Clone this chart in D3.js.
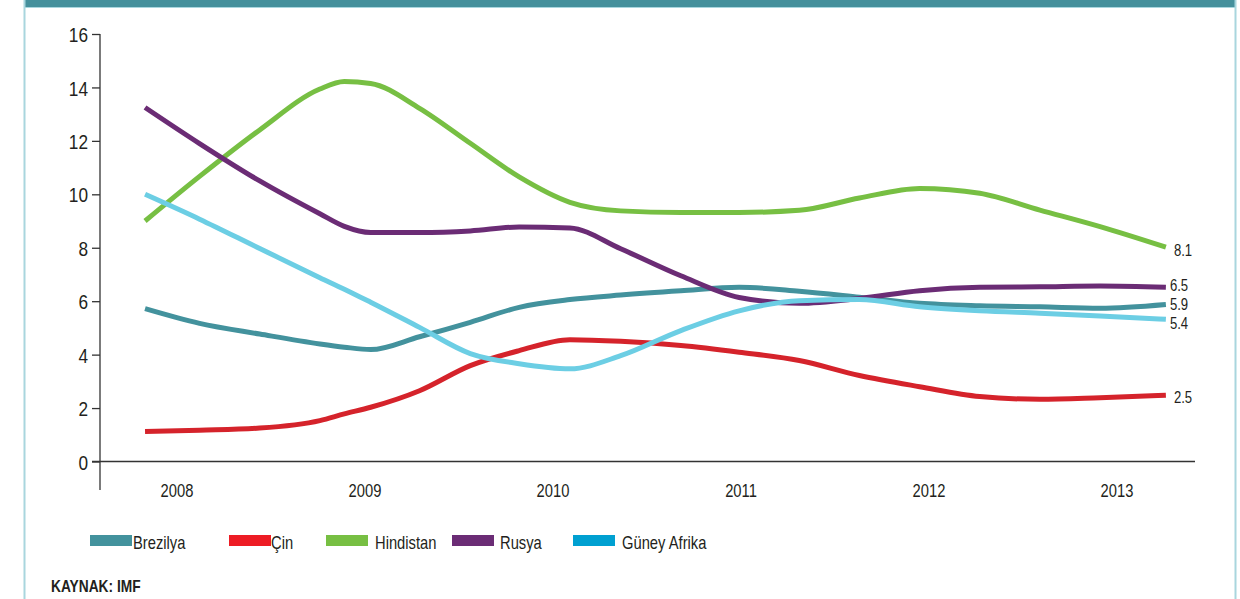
<!DOCTYPE html>
<html>
<head>
<meta charset="utf-8">
<script src="https://cdn.jsdelivr.net/npm/d3@7"></script>
<style>
  body { margin: 0; background: #fff; }
  svg { display: block; font-family: "Liberation Sans", Arial, sans-serif; }
</style>
</head>
<body>
<svg id="chart" width="1240" height="599"></svg>
<script>
// periods as fractional years
const periods = [2007.83, 2008.12, 2008.44, 2008.76, 2008.89, 2009.03, 2009.29, 2009.56, 2009.82,
  2010.09, 2010.36, 2010.68, 2010.99, 2011.31, 2011.63, 2011.95, 2012.27, 2012.59, 2012.91, 2013.26]
const years = [2008, 2009, 2010, 2011, 2012, 2013]
const yTicks = [0, 2, 4, 6, 8, 10, 12, 14, 16]

const brezilya = [5.72, 5.17, 4.77, 4.40, 4.28, 4.19, 4.67, 5.21, 5.77, 6.06, 6.23, 6.39, 6.52, 6.37, 6.15, 5.92, 5.83, 5.79, 5.74, 5.88]
const cin = [1.12, 1.17, 1.25, 1.53, 1.78, 2.03, 2.65, 3.59, 4.15, 4.56, 4.50, 4.34, 4.09, 3.78, 3.22, 2.80, 2.43, 2.33, 2.39, 2.48]
const hindistan = [9.0, 10.67, 12.41, 13.94, 14.22, 14.15, 13.22, 11.91, 10.65, 9.70, 9.38, 9.32, 9.32, 9.40, 9.86, 10.22, 10.04, 9.41, 8.79, 8.02]
const rusya = [13.25, 11.9, 10.5, 9.27, 8.80, 8.57, 8.57, 8.63, 8.78, 8.74, 7.96, 6.95, 6.14, 5.92, 6.10, 6.39, 6.52, 6.54, 6.57, 6.52]
const guneyAfrika = [10.0, 9.07, 7.97, 6.88, 6.45, 5.96, 5.02, 4.04, 3.66, 3.47, 3.96, 4.90, 5.64, 6.02, 6.06, 5.79, 5.64, 5.55, 5.45, 5.32]

const names = ['Brezilya', 'Çin', 'Hindistan', 'Rusya', 'Güney Afrika']
const endLabels = ['5.9', '2.5', '8.1', '6.5', '5.4']

const lineColors = ['#43929d', '#d5232b', '#77bf43', '#6b2c75', '#6ccee4']
const legendColors = ['#43929d', '#ed1c24', '#77bf43', '#6b2c75', '#00a0d1']
const labelShift = [[4, 0], [8, 2], [8, 3], [4, -2], [4, 4]]

const series = [brezilya, cin, hindistan, rusya, guneyAfrika].map((vals, i) => ({
  name: names[i],
  label: endLabels[i],
  values: vals.map((v, j) => ({ t: periods[j], v }))
}))

const NARROW = 0.82
// condensed look: squeeze text horizontally around its anchor
const squeeze = (sel, tx, ty, k = NARROW) =>
  sel.attr('x', 0).attr('y', 0).attr('transform', `translate(${tx},${ty}) scale(${k},1)`)

const svg = d3.select('#chart')

// frame
svg.append('rect').attr('x', 24).attr('y', 0).attr('width', 1212).attr('height', 7).attr('fill', '#45909c')
svg.append('line').attr('x1', 24).attr('x2', 1236).attr('y1', 7.5).attr('y2', 7.5).attr('stroke', '#a9d6de').attr('stroke-width', 1)
svg.append('line').attr('x1', 24.5).attr('x2', 24.5).attr('y1', 0).attr('y2', 599).attr('stroke', '#a9d6de').attr('stroke-width', 2)
svg.append('line').attr('x1', 1235.5).attr('x2', 1235.5).attr('y1', 0).attr('y2', 599).attr('stroke', '#a9d6de').attr('stroke-width', 2)

const x = d3.scaleLinear().domain([2008, 2013]).range([177, 1117])
const y = d3.scaleLinear().domain([0, 16]).range([461.5, 34])

// y axis
const yAxis = svg.append('g').attr('transform', 'translate(100,0)')
  .call(d3.axisLeft(y).tickValues(yTicks).tickSize(8).tickPadding(4).tickSizeOuter(0))
yAxis.select('.domain').remove()
yAxis.append('line').attr('x1', 0).attr('x2', 0).attr('y1', y(16)).attr('y2', 490)
  .attr('stroke', '#333').attr('stroke-width', 1.3)
yAxis.selectAll('.tick line').attr('stroke', '#333').attr('stroke-width', 1.3)
yAxis.selectAll('.tick text')
  .attr('fill', '#231f20').attr('font-size', 21).attr('font-family', null)
  .attr('dy', '0.36em')
  .call(sel => squeeze(sel, -12, 0))

// x axis
svg.append('line').attr('x1', 92).attr('x2', 1195).attr('y1', y(0)).attr('y2', y(0))
  .attr('stroke', '#333').attr('stroke-width', 1.3)
svg.selectAll('.year').data(years).enter().append('text')
  .attr('class', 'year')
  .attr('text-anchor', 'middle')
  .attr('font-size', 18)
  .attr('fill', '#231f20')
  .text(d => d)
  .each(function (d) { squeeze(d3.select(this), x(d), 497) })

const line = d3.line()
  .x(d => x(d.t))
  .y(d => y(d.v))
  .curve(d3.curveMonotoneX)

series.forEach((s, i) => {
  svg.append('path')
    .datum(s.values)
    .attr('d', line)
    .attr('fill', 'none')
    .attr('stroke', lineColors[i])
    .attr('stroke-width', 5)
    .attr('stroke-linejoin', 'round')

  const last = s.values[s.values.length - 1]
  svg.append('text')
    .attr('dy', '0.36em')
    .attr('font-size', 16)
    .attr('fill', '#231f20')
    .text(s.label)
    .call(sel => squeeze(sel, x(last.t) + labelShift[i][0], y(last.v) + labelShift[i][1]))
})

// legend
const legendX = [90, 229, 326, 452, 573]
const legendGap = [43, 42, 49, 48, 49]
const legend = svg.selectAll('.legend').data(names).enter().append('g')
  .attr('class', 'legend')
  .attr('transform', (d, i) => `translate(${legendX[i]},535)`)
legend.append('rect').attr('width', 42).attr('height', 11).attr('fill', (d, i) => legendColors[i])
legend.append('text')
  .attr('font-size', 18)
  .attr('fill', '#231f20')
  .text(d => d)
  .each(function (d, i) { squeeze(d3.select(this), legendGap[i], 14) })

svg.append('text')
  .attr('font-size', 16)
  .attr('font-weight', 'bold')
  .attr('fill', '#231f20')
  .text('KAYNAK: IMF')
  .call(sel => squeeze(sel, 51, 592, 0.86))
</script>
</body>
</html>
